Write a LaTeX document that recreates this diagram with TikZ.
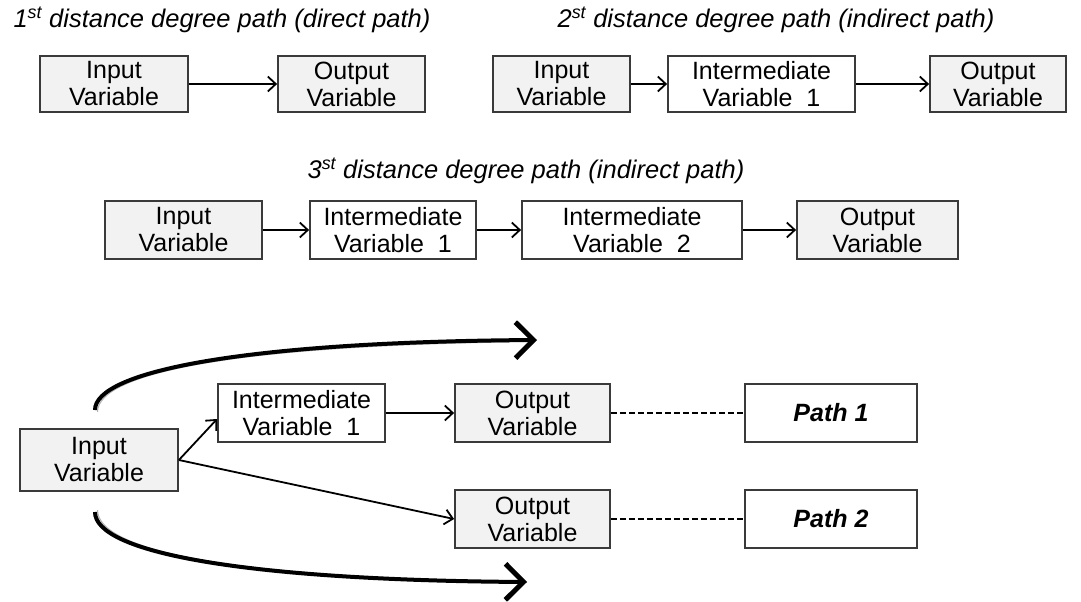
\documentclass[tikz,border=0pt]{standalone}
\usepackage{fontspec}
\setmainfont{Liberation Sans}
\usetikzlibrary{arrows.meta}
\definecolor{boxgray}{HTML}{F2F2F2}
\definecolor{edge}{HTML}{3A3A3A}
\tikzset{
  vbox/.style={draw=edge, line width=1.8pt, inner sep=0pt, align=center,
    font=\fontsize{25}{27}\selectfont},
  gbox/.style={vbox, fill=boxgray},
  wbox/.style={vbox, fill=white},
  conn/.style={line width=1.8pt, -{Straight Barb[length=8pt,width=15pt,line width=1.8pt]}},
  dashconn/.style={line width=1.8pt, dash pattern=on 6pt off 3pt},
  title/.style={font=\fontsize{25.5}{28}\selectfont\itshape},
  pathfont/.style={font=\fontsize{25}{27}\selectfont\bfseries\itshape},
  bigarrow/.style={line width=4pt, -{Straight Barb[length=18pt,width=36pt,line width=5pt]}},
  shadowline/.style={line width=1pt, draw=gray!60},
}
\begin{document}
\begin{tikzpicture}[x=1pt,y=-1pt]
\useasboundingbox (0,0) rectangle (1081,602);
% row 1 left
\node[title] (t1) at (222,20) {1\textsuperscript{st} distance degree path (direct path)};
\node[gbox, minimum width=148pt, minimum height=56pt] (a1) at (114,84) {Input\\Variable};
\node[gbox, minimum width=147pt, minimum height=56pt] (b1) at (351.5,84) {Output\\Variable};
\draw[conn] (a1) -- (b1);
% row 1 right
\node[title] (t2) at (776,20) {2\textsuperscript{st} distance degree path (indirect path)};
\node[gbox, minimum width=137pt, minimum height=56pt] (a2) at (561.5,84) {Input\\Variable};
\node[wbox, minimum width=187pt, minimum height=56pt] (m2) at (761.5,84) {Intermediate\\Variable\ \ 1};
\node[gbox, minimum width=136pt, minimum height=56pt] (b2) at (998,84) {Output\\Variable};
\draw[conn] (a2) -- (m2);
\draw[conn] (m2) -- (b2);
% row 2
\node[title] (t3) at (526,171) {3\textsuperscript{st} distance degree path (indirect path)};
\node[gbox, minimum width=157pt, minimum height=58pt] (a3) at (183.5,230) {Input\\Variable};
\node[wbox, minimum width=166pt, minimum height=58pt] (m3) at (393,230) {Intermediate\\Variable\ \ 1};
\node[wbox, minimum width=220pt, minimum height=58pt] (n3) at (632,230) {Intermediate\\Variable\ \ 2};
\node[gbox, minimum width=161pt, minimum height=58pt] (b3) at (877.5,230) {Output\\Variable};
\draw[conn] (a3) -- (m3);
\draw[conn] (m3) -- (n3);
\draw[conn] (n3) -- (b3);
% bottom
\node[gbox, minimum width=158pt, minimum height=62pt] (a4) at (99,460) {Input\\Variable};
\node[wbox, minimum width=167pt, minimum height=58pt] (m4) at (301.5,413) {Intermediate\\Variable\ \ 1};
\node[gbox, minimum width=155pt, minimum height=58pt] (o4) at (532.5,413) {Output\\Variable};
\node[gbox, minimum width=155pt, minimum height=58pt] (o5) at (532.5,519) {Output\\Variable};
\node[wbox, pathfont, minimum width=172pt, minimum height=58pt] (p1) at (831,413) {Path 1};
\node[wbox, pathfont, minimum width=172pt, minimum height=58pt] (p2) at (831,519) {Path 2};
\draw[conn] (a4.east) -- ([yshift=-6pt]m4.west);
\draw[conn] (a4.east) -- (o5.west);
\draw[conn] (m4) -- (o4);
\draw[dashconn] (o4) -- (p1);
\draw[dashconn] (o5) -- (p2);
% big curved arrows
\coordinate (u0) at (95,410);
\coordinate (u1) at (537,340);
\coordinate (l0) at (95,512);
\coordinate (l1) at (527,582);
\draw[shadowline] ([xshift=2.5pt,yshift=-2pt]u0) .. controls (98,372) and (240,346) .. (510,342);
\draw[bigarrow] (u0) .. controls (95,372) and (240,342) .. (u1);
\draw[shadowline] ([xshift=2.5pt,yshift=2pt]l0) .. controls (98,552) and (240,577) .. (500,581);
\draw[bigarrow] (l0) .. controls (95,552) and (240,580) .. (l1);
\end{tikzpicture}
\end{document}
